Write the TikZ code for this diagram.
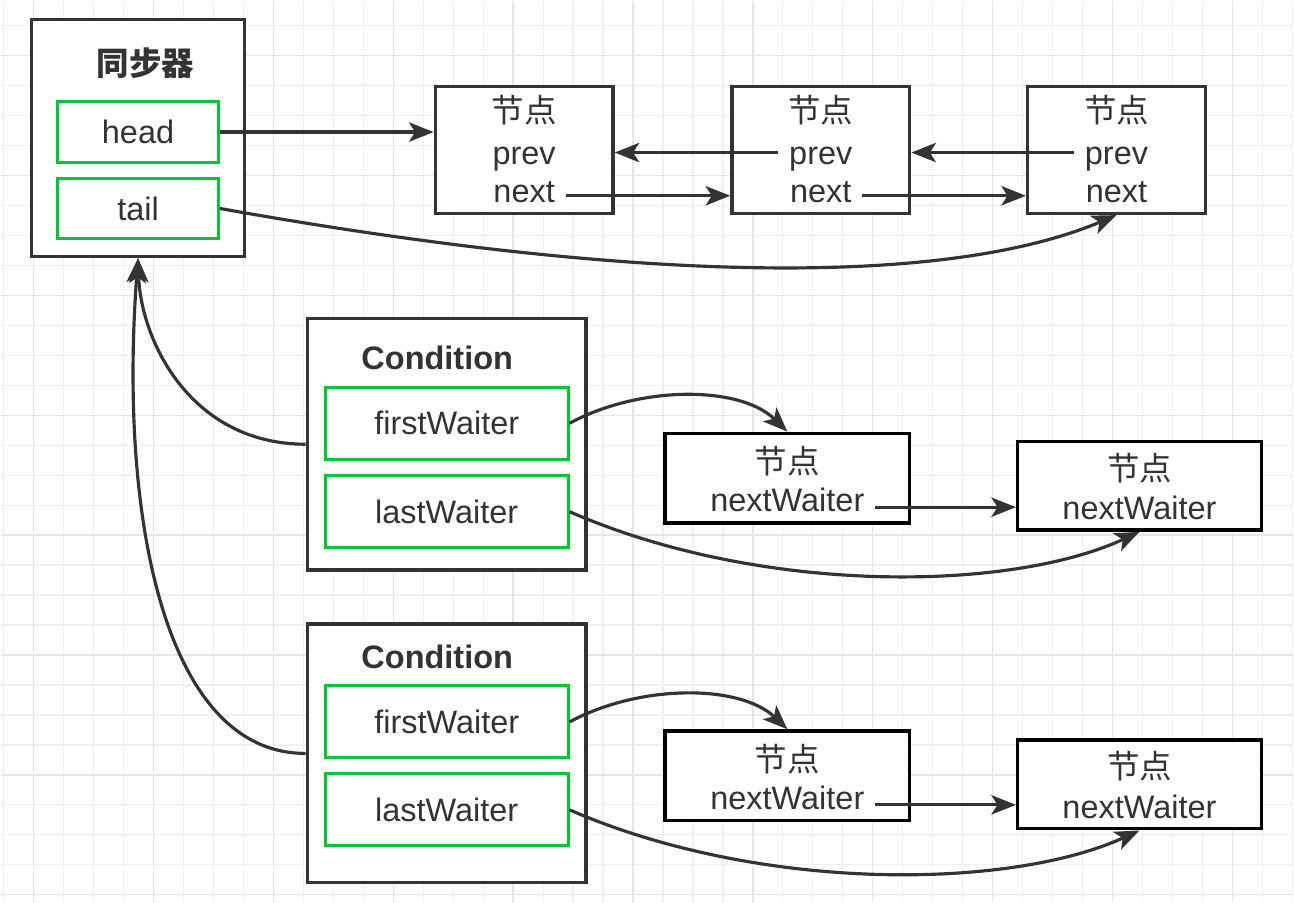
\documentclass[tikz,border=0pt]{standalone}
\usepackage{fontspec}
\setmainfont{Liberation Sans}
\newfontfamily\cjk{Noto Sans CJK SC}
\usetikzlibrary{arrows.meta}
\definecolor{darkgray}{RGB}{51,51,51}
\definecolor{fieldgreen}{RGB}{0,200,50}
\definecolor{gridgray}{RGB}{240,240,240}
\definecolor{gridmajor}{RGB}{230,230,230}

\begin{document}
\begin{tikzpicture}[
        x=0.02cm, y=-0.02cm,
        font=\fontsize{18.5}{22}\selectfont,
        outerbox/.style={rectangle, draw=darkgray, line width=1.9pt, fill=white},
        fieldbox/.style={rectangle, draw=fieldgreen, line width=1.7pt, fill=white, minimum width=3.22cm, minimum height=1.22cm},
        waiterbox/.style={rectangle, draw=fieldgreen, line width=1.7pt, fill=white, minimum width=4.86cm, minimum height=1.44cm},
        listnode/.style={rectangle, draw=darkgray, line width=1.9pt, fill=white, minimum width=3.56cm, minimum height=2.54cm},
        qnode/.style={rectangle, draw=black, line width=1.9pt, fill=white, minimum width=4.9cm, minimum height=1.8cm},
        txt/.style={inner sep=6pt, yshift=-4pt, text=darkgray, text height=0.72em, text depth=0.2em},
        title/.style={txt, font=\fontsize{18.5}{22}\selectfont\bfseries},
        arrow/.style={-{Stealth[length=14pt, width=11pt, inset=3.5pt]}, line width=1.8pt, draw=darkgray}
    ]
        % background grid
        \fill[white] (0,0) rectangle (1294,902);
        \foreach \x in {3,33,...,1293} \draw[gridgray, line width=0.7pt] (\x,0) -- (\x,902);
        \foreach \y in {25,55,...,895} \draw[gridgray, line width=0.7pt] (0,\y) -- (1294,\y);
        \foreach \x in {33,153,...,1233} \draw[gridmajor, line width=0.8pt] (\x,0) -- (\x,902);
        \foreach \y in {55,175,...,895} \draw[gridmajor, line width=0.8pt] (0,\y) -- (1294,\y);
        \useasboundingbox (0,0) rectangle (1294,902);

        % synchronizer
        \node[outerbox, minimum width=4.26cm, minimum height=4.74cm] (sync) at (137.5,137.5) {};
        \node[title] (synct) at (145,63) {\cjk\bfseries 同步器};
        \node[fieldbox] (head) at (137.5,131.5) {};
        \node[txt] at (head) {head};
        \node[fieldbox] (tail) at (137.5,208) {};
        \node[txt] at (tail) {tail};

        % sync queue
        \node[listnode] (n1) at (524,149.5) {};
        \node[txt] (n1t) at (524,110) {\cjk 节点};
        \node[txt] (n1p) at (524,152) {prev};
        \node[txt] (n1n) at (524,190) {next};

        \node[listnode] (n2) at (821,149.5) {};
        \node[txt] (n2t) at (821,110) {\cjk 节点};
        \node[txt] (n2p) at (821,152) {prev};
        \node[txt] (n2n) at (821,190) {next};

        \node[listnode] (n3) at (1117,149.5) {};
        \node[txt] (n3t) at (1117,110) {\cjk 节点};
        \node[txt] (n3p) at (1117,152) {prev};
        \node[txt] (n3n) at (1117,190) {next};

        \draw[arrow] (head.east) -- (head.east -| n1.west);
        \draw[arrow] ([yshift=1pt]n1n.east) -- ([yshift=1pt]n1n.east -| n2.west);
        \draw[arrow] ([yshift=1pt]n2n.east) -- ([yshift=1pt]n2n.east -| n3.west);
        \draw[arrow] ([yshift=4pt]n2p.west) -- ([yshift=4pt]n2p.west -| n1.east);
        \draw[arrow] ([yshift=4pt]n3p.west) -- ([yshift=4pt]n3p.west -| n2.east);
        \draw[arrow] (tail.east) .. controls (650,285) and (950,285) .. (n3.south);

        % first condition
        \node[outerbox, minimum width=5.58cm, minimum height=5.04cm] (c1) at (446.5,444) {};
        \node[title] (c1t) at (437,358) {Condition};
        \node[waiterbox] (c1f) at (446.5,423) {};
        \node[txt] at (c1f) {firstWaiter};
        \node[waiterbox] (c1l) at (446.5,511.5) {};
        \node[txt] at (c1l) {lastWaiter};

        \node[qnode] (a1) at (787.5,478) {};
        \node[txt] (a1t) at (787.5,462) {\cjk 节点};
        \node[txt] (a1w) at (787.5,500) {nextWaiter};
        \node[qnode, minimum width=4.88cm, minimum height=1.78cm] (b1) at (1140,485.5) {};
        \node[txt] (b1t) at (1140,469) {\cjk 节点};
        \node[txt] (b1w) at (1140,508) {nextWaiter};

        \draw[arrow] (c1f.east) .. controls (640,385) and (740,385) .. (a1.north);
        \draw[arrow] (a1w.east) -- (a1w.east -| b1.west);
        \draw[arrow] (c1l.east) .. controls (760,595) and (1010,592) .. (b1.south);

        % second condition
        \node[outerbox, minimum width=5.58cm, minimum height=5.18cm] (c2) at (446.5,753.5) {};
        \node[title] (c2t) at (437,657) {Condition};
        \node[waiterbox] (c2f) at (446.5,722) {};
        \node[txt] at (c2f) {firstWaiter};
        \node[waiterbox] (c2l) at (446.5,810) {};
        \node[txt] at (c2l) {lastWaiter};

        \node[qnode] (a2) at (787.5,776) {};
        \node[txt] (a2t) at (787.5,760) {\cjk 节点};
        \node[txt] (a2w) at (787.5,798) {nextWaiter};
        \node[qnode, minimum width=4.88cm, minimum height=1.78cm] (b2) at (1140,784.5) {};
        \node[txt] (b2t) at (1140,767) {\cjk 节点};
        \node[txt] (b2w) at (1140,807) {nextWaiter};

        \draw[arrow] (c2f.east) .. controls (640,684) and (740,684) .. (a2.north);
        \draw[arrow] (a2w.east) -- (a2w.east -| b2.west);
        \draw[arrow] (c2l.east) .. controls (760,893) and (1010,890) .. (b2.south);

        % conditions back to synchronizer
        \draw[arrow] (c1.west) .. controls (190,444) and (140,340) .. (sync.south);
        \draw[arrow] (c2.west) .. controls (165,754) and (118,520) .. (sync.south);
    \end{tikzpicture}
\end{document}
